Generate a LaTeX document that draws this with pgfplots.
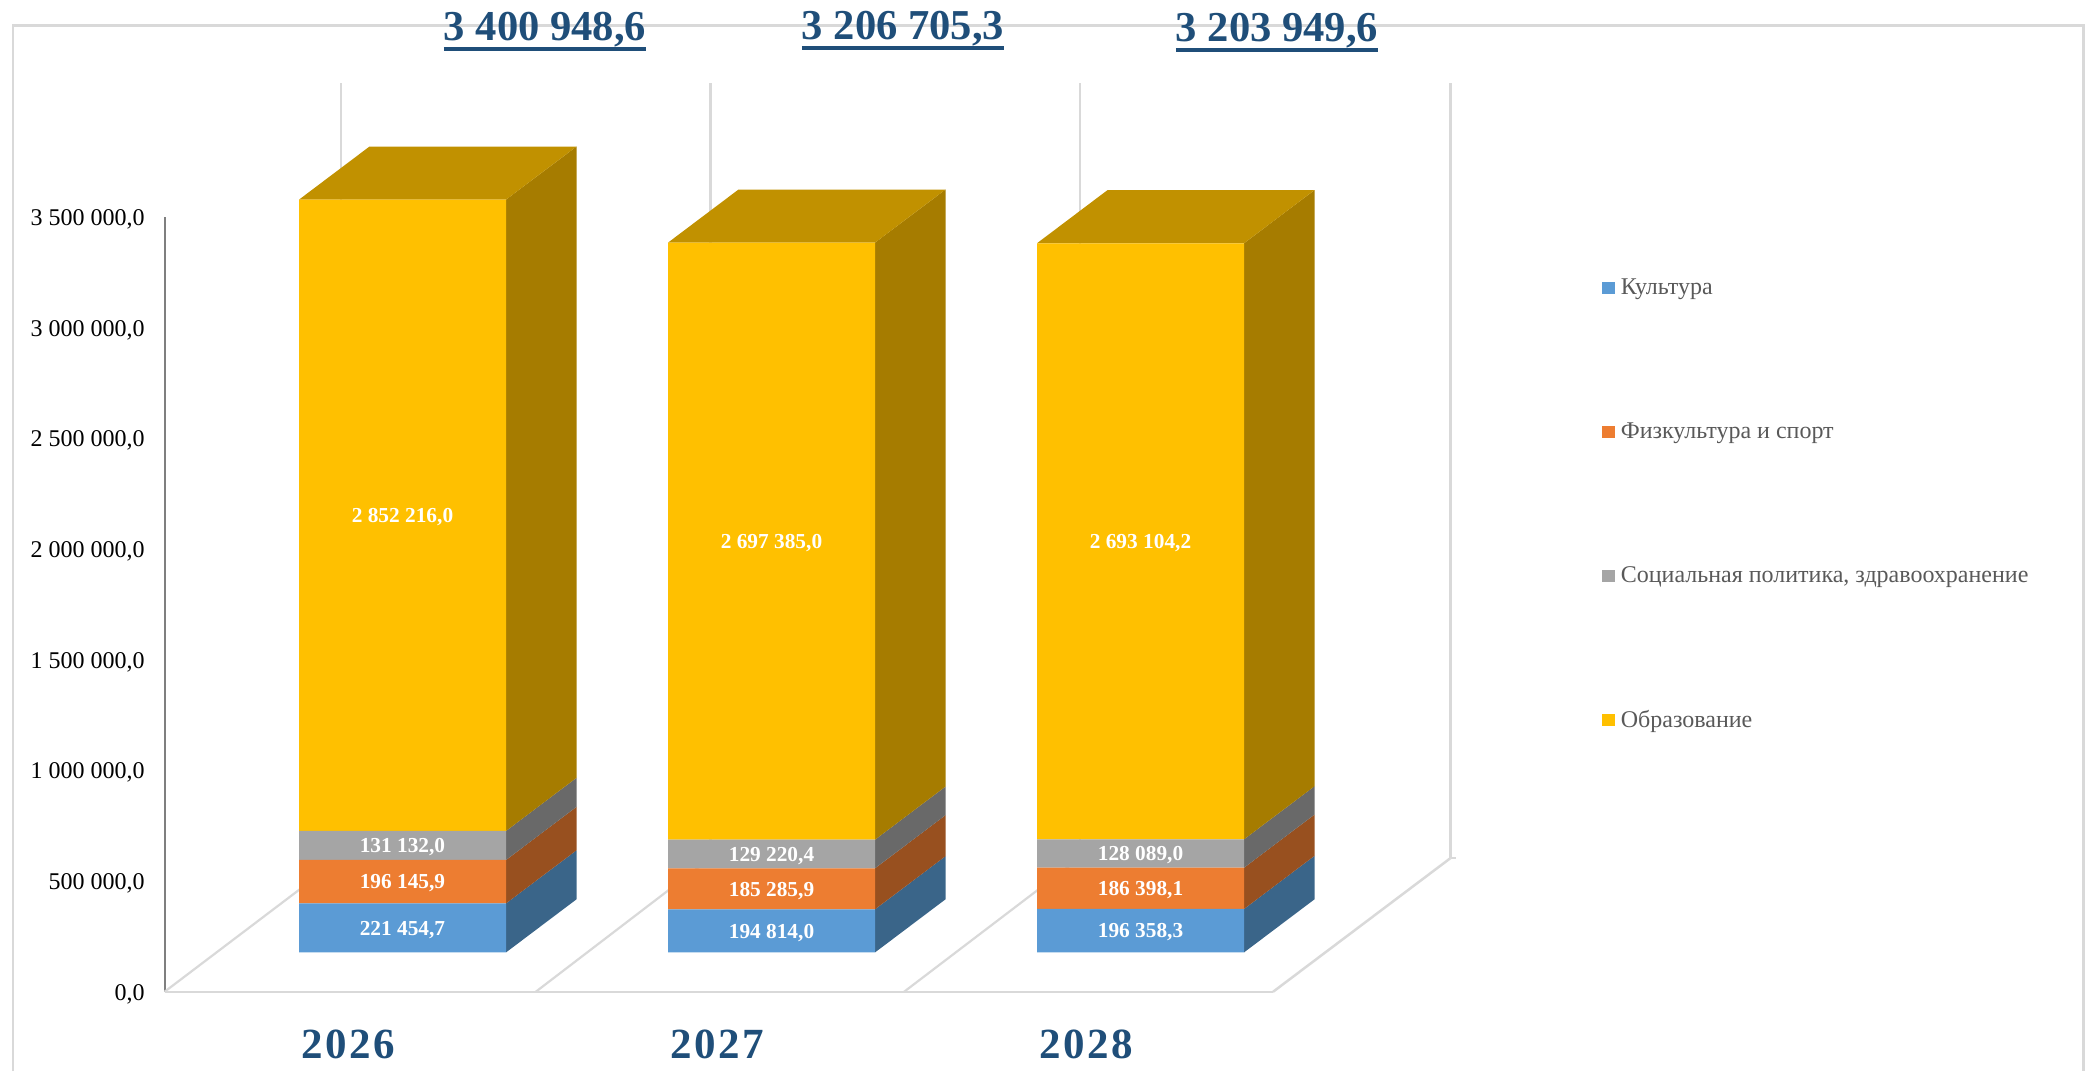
\documentclass[border=0pt]{standalone}
\usepackage{fontspec}
\setmainfont{Liberation Serif}
\newfontfamily\yearfont[LetterSpace=6]{Liberation Serif}
\usepackage{pgfplots}
\pgfplotsset{compat=1.18}
\definecolor{cBlue}{HTML}{5B9BD5}\definecolor{sBlue}{HTML}{3A6589}
\definecolor{cOrange}{HTML}{ED7D31}\definecolor{sOrange}{HTML}{98501F}
\definecolor{cGray}{HTML}{A5A5A5}\definecolor{sGray}{HTML}{696969}
\definecolor{cYellow}{HTML}{FFC000}\definecolor{sYellow}{HTML}{A67C00}
\definecolor{tYellow}{HTML}{C19100}
\definecolor{navy}{HTML}{1F4E79}\definecolor{wall}{HTML}{D9D9D9}
\definecolor{legtext}{HTML}{595959}\definecolor{yline}{HTML}{7F7F7F}
\newcommand{\ttl}[1]{\vtop{\hbox{\fontsize{21.3pt}{24pt}\selectfont\bfseries\color{navy}#1}\kern-0.2pt{\color{navy}\hrule height 2pt}}}
\pgfplotsset{
  base/.style={
    scale only axis, width=554.25pt, height=387.35pt,
    xmin=164.5, xmax=1273, ymin=0, ymax=3500000, clip=false,
    anchor=origin, at={(0,0)}, scaled y ticks=false, scaled x ticks=false,
  },
  sq/.style={legend image code/.code={\fill[##1,draw=none] (0pt,-3pt) rectangle (6.5pt,3pt);}},
}
\begin{document}
\begin{tikzpicture}
% ---------- axes, back walls, floor, side faces
\begin{axis}[base,
  axis x line=bottom, axis y line=left,
  x axis line style={-,draw=wall,line width=1.25pt},
  y axis line style={-,draw=yline,line width=1pt},
  major tick length=0pt,
  xtick={348,717,1086}, xticklabels={2026,2027,2028},
  x tick label style={anchor=north,inner sep=0pt,yshift=-18.8pt,
    font=\yearfont\bfseries\fontsize{21.5pt}{24pt}\selectfont,text=navy},
  ytick={0,500000,1000000,1500000,2000000,2500000,3000000,3500000},
  yticklabels={{0,0},{500 000,0},{1 000 000,0},{1 500 000,0},{2 000 000,0},{2 500 000,0},{3 000 000,0},{3 500 000,0}},
  y tick label style={anchor=east,inner sep=0pt,xshift=-9.75pt,yshift=-1.1pt,
    font=\fontsize{12pt}{14pt}\selectfont,text=black},
]
\path (axis cs:0,-358000) rectangle (axis cs:2085,4481000);
% outer frame
\addplot[wall,line width=1.25pt,forget plot] coordinates {(13,-358336)(13,4364663)(2083.6,4364663)(2083.6,-358336)};
% back wall verticals
\addplot[wall,line width=1.1pt] coordinates {(341,604157)(341,4106191)};
\addplot[wall,line width=1.1pt] coordinates {(710.5,604157)(710.5,4106191)};
\addplot[wall,line width=1.1pt] coordinates {(1079.6,604157)(1079.6,4106191)};
\addplot[wall,line width=1.25pt] coordinates {(1450.5,604157)(1450.5,4106191)};
\addplot[wall,line width=1pt] coordinates {(1450.5,604157)(1456,604157)};
% floor slants
\addplot[wall,line width=1.1pt] coordinates {(164.5,0)(341,604157)};
\addplot[wall,line width=1.1pt] coordinates {(535.7,0)(710.5,604157)};
\addplot[wall,line width=1.1pt] coordinates {(904,0)(1079.6,604157)};
\addplot[wall,line width=1.25pt] coordinates {(1273,0)(1450.5,604157)};
% side faces, 2026
\addplot[fill=sBlue,draw=none] coordinates {(506,178000)(576.5,418000)(576.5,639454.7)(506,399454.7)} --cycle;
\addplot[fill=sOrange,draw=none] coordinates {(506,399454.7)(576.5,639454.7)(576.5,835600.6)(506,595600.6)} --cycle;
\addplot[fill=sGray,draw=none] coordinates {(506,595600.6)(576.5,835600.6)(576.5,966732.6)(506,726732.6)} --cycle;
\addplot[fill=sYellow,draw=none] coordinates {(506,726732.6)(576.5,966732.6)(576.5,3818948.6)(506,3578948.6)} --cycle;
\addplot[fill=tYellow,draw=none] coordinates {(299,3578948.6)(506,3578948.6)(576.5,3818948.6)(369.5,3818948.6)} --cycle;
% side faces, 2027
\addplot[fill=sBlue,draw=none] coordinates {(875,178000)(945.5,418000)(945.5,612814)(875,372814)} --cycle;
\addplot[fill=sOrange,draw=none] coordinates {(875,372814)(945.5,612814)(945.5,798099.9)(875,558099.9)} --cycle;
\addplot[fill=sGray,draw=none] coordinates {(875,558099.9)(945.5,798099.9)(945.5,927320.3)(875,687320.3)} --cycle;
\addplot[fill=sYellow,draw=none] coordinates {(875,687320.3)(945.5,927320.3)(945.5,3624705.3)(875,3384705.3)} --cycle;
\addplot[fill=tYellow,draw=none] coordinates {(668,3384705.3)(875,3384705.3)(945.5,3624705.3)(738.5,3624705.3)} --cycle;
% side faces, 2028
\addplot[fill=sBlue,draw=none] coordinates {(1244,178000)(1314.5,418000)(1314.5,614358.3)(1244,374358.3)} --cycle;
\addplot[fill=sOrange,draw=none] coordinates {(1244,374358.3)(1314.5,614358.3)(1314.5,800756.4)(1244,560756.4)} --cycle;
\addplot[fill=sGray,draw=none] coordinates {(1244,560756.4)(1314.5,800756.4)(1314.5,928845.4)(1244,688845.4)} --cycle;
\addplot[fill=sYellow,draw=none] coordinates {(1244,688845.4)(1314.5,928845.4)(1314.5,3621949.6)(1244,3381949.6)} --cycle;
\addplot[fill=tYellow,draw=none] coordinates {(1037,3381949.6)(1244,3381949.6)(1314.5,3621949.6)(1107.5,3621949.6)} --cycle;
\end{axis}
% ---------- stacked front faces and legend
\begin{axis}[base, hide axis, ybar stacked, bar width=207,
  legend style={draw=none,fill=none,at={(axis cs:1602,3222000)},anchor=north west,
    inner sep=0pt,row sep=62.5pt,column sep=2.7pt,nodes={inner sep=0pt},
    font=\fontsize{12pt}{14pt}\selectfont,text=legtext,
    legend cell align=left},
]
\addplot[draw=none,fill=none,forget plot] coordinates {(402.5,178000)(771.5,178000)(1140.5,178000)};
\addplot[fill=cBlue,draw=none,sq] coordinates {(402.5,221454.7)(771.5,194814.0)(1140.5,196358.3)};
\addplot[fill=cOrange,draw=none,sq] coordinates {(402.5,196145.9)(771.5,185285.9)(1140.5,186398.1)};
\addplot[fill=cGray,draw=none,sq] coordinates {(402.5,131132.0)(771.5,129220.4)(1140.5,128089.0)};
\addplot[fill=cYellow,draw=none,sq] coordinates {(402.5,2852216.0)(771.5,2697385.0)(1140.5,2693104.2)};
\legend{Культура,Физкультура и спорт,{Социальная политика, здравоохранение},Образование}
\end{axis}
% ---------- data labels and totals
\begin{axis}[base, hide axis,
  nodes near coords, point meta=explicit symbolic,
  every node near coord/.append style={anchor=center,inner sep=0pt,text=white,yshift=-0.9pt,
    font=\bfseries\fontsize{10.67pt}{12pt}\selectfont},
]
\addplot[draw=none,mark=none] coordinates {
 (402.5,288727)[221 454,7] (402.5,497528)[196 145,9] (402.5,661167)[131 132,0] (402.5,2152841)[2 852 216,0]
 (771.5,275407)[194 814,0] (771.5,465457)[185 285,9] (771.5,622710)[129 220,4] (771.5,2036013)[2 697 385,0]
 (1140.5,276179)[196 358,3] (1140.5,467557)[186 398,1] (1140.5,624801)[128 089,0] (1140.5,2035397)[2 693 104,2]
};
\node[anchor=base,inner sep=0pt] at (axis cs:545,4296000) {\ttl{3 400 948,6}};
\node[anchor=base,inner sep=0pt] at (axis cs:903,4300500) {\ttl{3 206 705,3}};
\node[anchor=base,inner sep=0pt] at (axis cs:1277,4294000) {\ttl{3 203 949,6}};
\end{axis}
\end{tikzpicture}
\end{document}
